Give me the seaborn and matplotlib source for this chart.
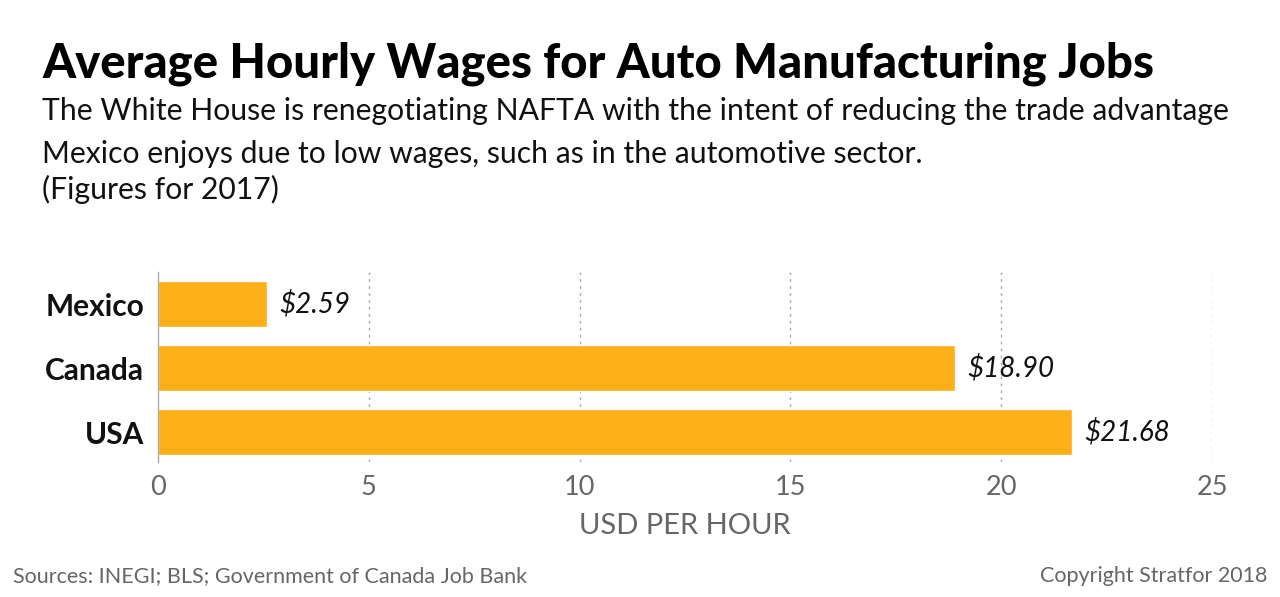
import matplotlib
matplotlib.use("Agg")
import matplotlib.pyplot as plt
import seaborn as sns
import pandas as pd

# Chart data
countries = ["Mexico", "Canada", "USA"]
wages = [2.59, 18.90, 21.68]
wage_labels = ["$2.59", "$18.90", "$21.68"]
x_ticks = [0, 5, 10, 15, 20, 25]

df = pd.DataFrame({"country": countries, "wage": wages})

sns.set_theme(style="white")
plt.rcParams['font.family'] = ['Lato', 'DejaVu Sans']

fig = plt.figure(figsize=(12.8, 5.97), dpi=100)
ax = fig.add_axes([0.1234, 0.226, 0.8235, 0.318])

sns.barplot(data=df, x="wage", y="country", color="#FCAF17", saturation=1,
            width=0.72, ax=ax)

# labels next to bars
for i, (v, lab) in enumerate(zip(wages, wage_labels)):
    ax.text(v + 0.3, i, lab.replace("$", "\\$"), va="center", ha="left",
            fontsize=20, style="italic", color="#111111")

ax.set_xlim(0, 25)
ax.set_ylim(2.47, -0.5)
ax.set_xticks(x_ticks)
ax.set_xticklabels([str(t) for t in x_ticks], fontsize=19.5, color="#666666")
ax.tick_params(axis="x", length=0, pad=9)
ax.tick_params(axis="y", length=0, pad=10)
for lab in ax.get_yticklabels():
    lab.set_fontsize(21.5)
    lab.set_fontweight("bold")
    lab.set_color("#111111")

for t in x_ticks[1:]:
    ax.axvline(t, color="#aaaaaa", linestyle=(0, (2, 3)), linewidth=1, zorder=0)

for s in ["top", "right", "bottom"]:
    ax.spines[s].set_visible(False)
ax.spines["left"].set_color("#aaaaaa")
ax.spines["left"].set_linewidth(1)

ax.set_ylabel("")
ax.set_xlabel("USD PER HOUR", fontsize=21, color="#666666", labelpad=10)

# Titles
fig.text(0.033, 0.871, "Average Hourly Wages for Auto Manufacturing Jobs",
         fontsize=34, fontweight=900, color="black", va="baseline")
fig.text(0.033, 0.799,
         "The White House is renegotiating NAFTA with the intent of reducing the trade advantage",
         fontsize=21.7, color="#111111", va="baseline")
fig.text(0.033, 0.727,
         "Mexico enjoys due to low wages, such as in the automotive sector.",
         fontsize=21.7, color="#111111", va="baseline")
fig.text(0.033, 0.666, "(Figures for 2017)",
         fontsize=21.7, color="#111111", va="baseline")

# Footer
fig.text(0.01, 0.025, "Sources: INEGI; BLS; Government of Canada Job Bank",
         fontsize=15.5, color="#666666")
fig.text(0.99, 0.025, "Copyright Stratfor 2018", fontsize=15.5, color="#666666", ha="right")

fig.savefig("out.png", dpi=100)
